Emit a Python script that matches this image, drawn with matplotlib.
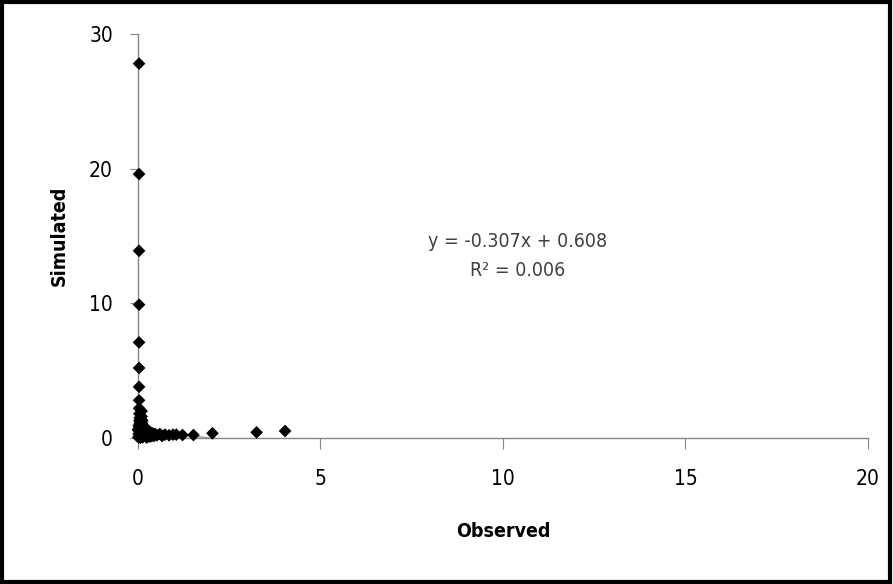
import matplotlib
matplotlib.use("Agg")
import matplotlib.pyplot as plt
import matplotlib.patches as mpatches
import numpy as np

# ── Data ────────────────────────────────────────────────────────────────────
observed = [0.03, 0.03, 0.03, 0.03, 0.03, 0.03, 0.03, 0.03, 0.03, 0.04, 0.05, 0.04,
            0.05, 0.02, 0.05, 0.08, 0.10, 0.12, 0.15, 0.20, 0.25, 0.30, 0.05,
            0.10, 0.03, 0.15, 0.20, 0.35, 0.40, 0.47, 0.60, 0.74, 0.85, 0.96,
            1.05, 1.22, 1.52, 2.04, 3.25, 4.03, 0.01, 0.06, 0.12, 0.25, 0.00,
            0.08, 0.18, 0.30, 0.12, 0.06, 0.10, 0.02, 0.04, 0.07, 0.14,
            0.09, 0.16, 0.22, 0.28, 0.33, 0.05, 0.11, 0.19, 0.26, 0.38,
            0.02, 0.07, 0.13, 0.17, 0.23, 0.44, 0.52, 0.66, 0.08, 0.14]
simulated = [27.8, 19.6, 13.9, 9.9, 7.1, 5.2, 3.8, 2.8, 2.2, 1.8, 1.5, 1.3,
             1.1, 0.9, 0.8, 1.0, 1.6, 1.3, 0.9, 0.7, 0.6, 0.5, 0.4,
             0.3, 0.1, 0.2, 0.15, 0.4, 0.35, 0.3, 0.3, 0.25, 0.2, 0.25,
             0.25, 0.22, 0.22, 0.35, 0.42, 0.52, 0.05, 0.02, 0.05, 0.05, 0.6,
             0.6, 0.45, 0.2, 0.7, 1.2, 2.0, 0.3, 0.5, 0.15, 0.1,
             0.35, 0.55, 0.3, 0.35, 0.1, 1.0, 1.1, 0.25, 0.45, 0.15,
             0.7, 0.05, 0.4, 0.8, 0.05, 0.15, 0.2, 0.15, 1.4, 0.6]

slope, intercept, r2 = -0.307, 0.608, 0.006

x_ticks = [0, 5, 10, 15, 20]
y_ticks = [0, 10, 20, 30]

# ── Style ───────────────────────────────────────────────────────────────────
C_AXIS = "#868686"
C_TEXT = "#404040"

plt.rcParams.update({
    "font.family": ["DejaVu Sans"],
    "font.stretch": "condensed",
    "font.size": 13,
})

fig = plt.figure(figsize=(8.93, 5.84), dpi=100)
ax = fig.add_axes([0.1545, 0.25, 0.972 - 0.1545, 0.9418 - 0.25])

ax.scatter(observed, simulated, marker="D", s=42, color="black",
           edgecolors="none", zorder=3, clip_on=False)

# trendline over the data range
xl = np.array([0, max(observed)])
ax.plot(xl, slope * xl + intercept, color="#a0a0a0", lw=1, zorder=2)

ax.set_xlim(0, 20)
ax.set_ylim(0, 30)
ax.set_xticks(x_ticks)
ax.set_yticks(y_ticks)

for s in ["top", "right"]:
    ax.spines[s].set_visible(False)
for s in ["left", "bottom"]:
    ax.spines[s].set_color(C_AXIS)
    ax.spines[s].set_linewidth(1)

ax.tick_params(axis="x", direction="out", length=8, color=C_AXIS, pad=14,
               labelsize=15, labelcolor="black")
ax.tick_params(axis="y", direction="out", length=6, color=C_AXIS, pad=12,
               labelsize=15, labelcolor="black")

ax.set_xlabel("Observed", fontsize=14, fontweight="bold", labelpad=24)
ax.set_ylabel("Simulated", fontsize=14, fontweight="bold", labelpad=15)

ax.text(0.52, 0.487, f"y = {slope:.3f}x + {intercept:.3f}", transform=ax.transAxes,
        ha="center", va="center", fontsize=14, color=C_TEXT)
ax.text(0.52, 0.415, f"R² = {r2:.3f}", transform=ax.transAxes,
        ha="center", va="center", fontsize=14, color=C_TEXT)

# black frame around the whole picture
fig.patches.append(mpatches.Rectangle((0.002, 0.003), 0.995, 0.993,
                                      transform=fig.transFigure, fill=False,
                                      edgecolor="black", linewidth=3))

fig.savefig("out.png", dpi=100)
